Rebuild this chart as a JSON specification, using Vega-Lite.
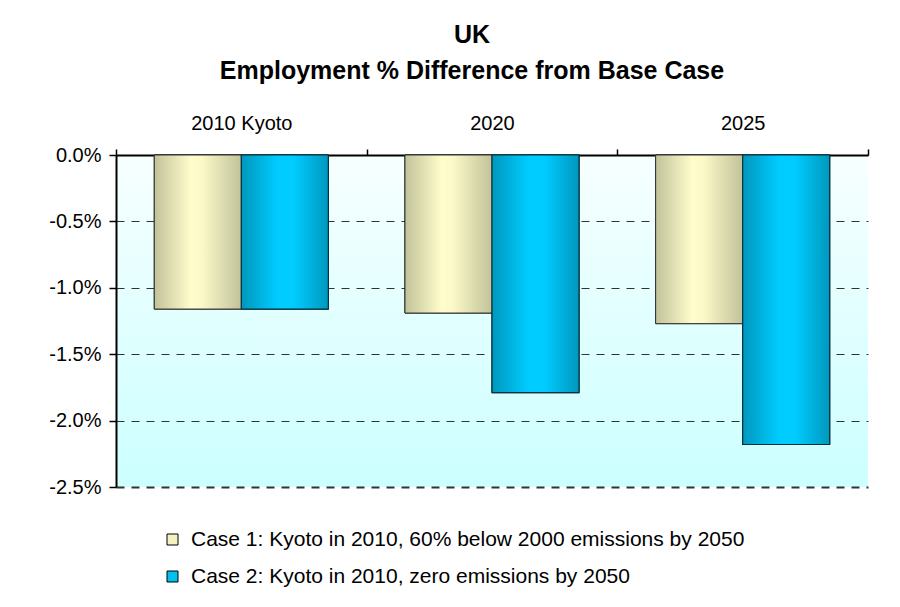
{
  "$schema": "https://vega.github.io/schema/vega-lite/v6.json",
  "width": 752,
  "height": 332,
  "autosize": {"type": "none"},
  "padding": {"left": 116, "top": 155, "right": 32, "bottom": 120},
  "background": "white",
  "title": {
    "text": ["UK", "Employment % Difference from Base Case"],
    "font": "Liberation Sans",
    "fontSize": 25,
    "fontWeight": "bold",
    "lineHeight": 36,
    "color": "black",
    "anchor": "middle",
    "dx": -20,
    "offset": 29
  },
  "data": {
    "values": [
      {"period": "2010 Kyoto", "case": "Case 1: Kyoto in 2010, 60% below 2000 emissions by 2050", "value": -0.0116},
      {"period": "2010 Kyoto", "case": "Case 2: Kyoto in 2010, zero emissions by 2050", "value": -0.0116},
      {"period": "2020", "case": "Case 1: Kyoto in 2010, 60% below 2000 emissions by 2050", "value": -0.0119},
      {"period": "2020", "case": "Case 2: Kyoto in 2010, zero emissions by 2050", "value": -0.0179},
      {"period": "2025", "case": "Case 1: Kyoto in 2010, 60% below 2000 emissions by 2050", "value": -0.0127},
      {"period": "2025", "case": "Case 2: Kyoto in 2010, zero emissions by 2050", "value": -0.0218}
    ]
  },
  "encoding": {
    "x": {
      "field": "period",
      "type": "nominal",
      "sort": null,
      "scale": {"paddingInner": 0, "paddingOuter": 0},
      "axis": {
        "orient": "top",
        "title": null,
        "labelAngle": 0,
        "labelFont": "Liberation Sans",
        "labelFontSize": 20,
        "labelColor": "black",
        "labelPadding": 16,
        "tickBand": "extent",
        "tickSize": 6,
        "tickColor": "black",
        "tickWidth": 1.5,
        "domainColor": "black",
        "domainWidth": 2
      }
    },
    "xOffset": {
      "field": "case",
      "type": "nominal",
      "scale": {"paddingOuter": 0.44, "paddingInner": 0}
    },
    "y": {
      "field": "value",
      "type": "quantitative",
      "scale": {"domain": [-0.025, 0], "nice": false, "zero": false},
      "axis": {
        "title": null,
        "values": [0, -0.005, -0.01, -0.015, -0.02, -0.025],
        "format": ".1%",
        "labelExpr": "replace(datum.label, '\u2212', '-')",
        "labelFont": "Liberation Sans",
        "labelFontSize": 20,
        "labelColor": "black",
        "labelPadding": 8,
        "tickSize": 7,
        "tickColor": "black",
        "tickWidth": 1.5,
        "domainColor": "black",
        "domainWidth": 2,
        "grid": true,
        "gridColor": "#333333",
        "gridDash": [8, 7],
        "gridWidth": {"condition": {"test": "datum.value == -0.025", "value": 2}, "value": 1}
      }
    }
  },
  "layer": [
    {
      "mark": {"type": "bar", "stroke": "black", "strokeWidth": 1},
      "encoding": {
        "color": {
          "field": "case",
          "type": "nominal",
          "scale": {"range": ["#f4f2c2", "#00c0ee"]},
          "legend": {
            "title": null,
            "orient": "none",
            "legendX": 46,
            "legendY": 374,
            "direction": "vertical",
            "symbolType": "square",
            "symbolSize": 121,
            "symbolStrokeColor": "black",
            "symbolStrokeWidth": 1,
            "labelFont": "Liberation Sans",
            "labelFontSize": 21,
            "labelColor": "black",
            "labelLimit": 700,
            "rowPadding": 15,
            "labelOffset": 8
          }
        }
      }
    },
    {
      "transform": [{"filter": "indexof(datum.case, 'Case 1') == 0"}],
      "mark": {
        "type": "bar",
        "stroke": "#333333",
        "strokeWidth": 1,
        "fill": {
          "gradient": "linear",
          "x1": 0, "y1": 0, "x2": 1, "y2": 0,
          "stops": [
            {"offset": 0, "color": "#c2c29a"},
            {"offset": 0.42, "color": "#fffdcc"},
            {"offset": 0.55, "color": "#fbf9c8"},
            {"offset": 1, "color": "#c2c29a"}
          ]
        }
      }
    },
    {
      "transform": [{"filter": "indexof(datum.case, 'Case 2') == 0"}],
      "mark": {
        "type": "bar",
        "stroke": "#003344",
        "strokeWidth": 1.2,
        "fill": {
          "gradient": "linear",
          "x1": 0, "y1": 0, "x2": 1, "y2": 0,
          "stops": [
            {"offset": 0, "color": "#0097bd"},
            {"offset": 0.42, "color": "#00ccff"},
            {"offset": 0.6, "color": "#00ccff"},
            {"offset": 1, "color": "#0097bd"}
          ]
        }
      }
    }
  ],
  "config": {
    "view": {
      "stroke": null,
      "fill": {
        "gradient": "linear",
        "x1": 0, "y1": 0, "x2": 0, "y2": 1,
        "stops": [
          {"offset": 0, "color": "#f7ffff"},
          {"offset": 1, "color": "#ccffff"}
        ]
      }
    }
  }
}
